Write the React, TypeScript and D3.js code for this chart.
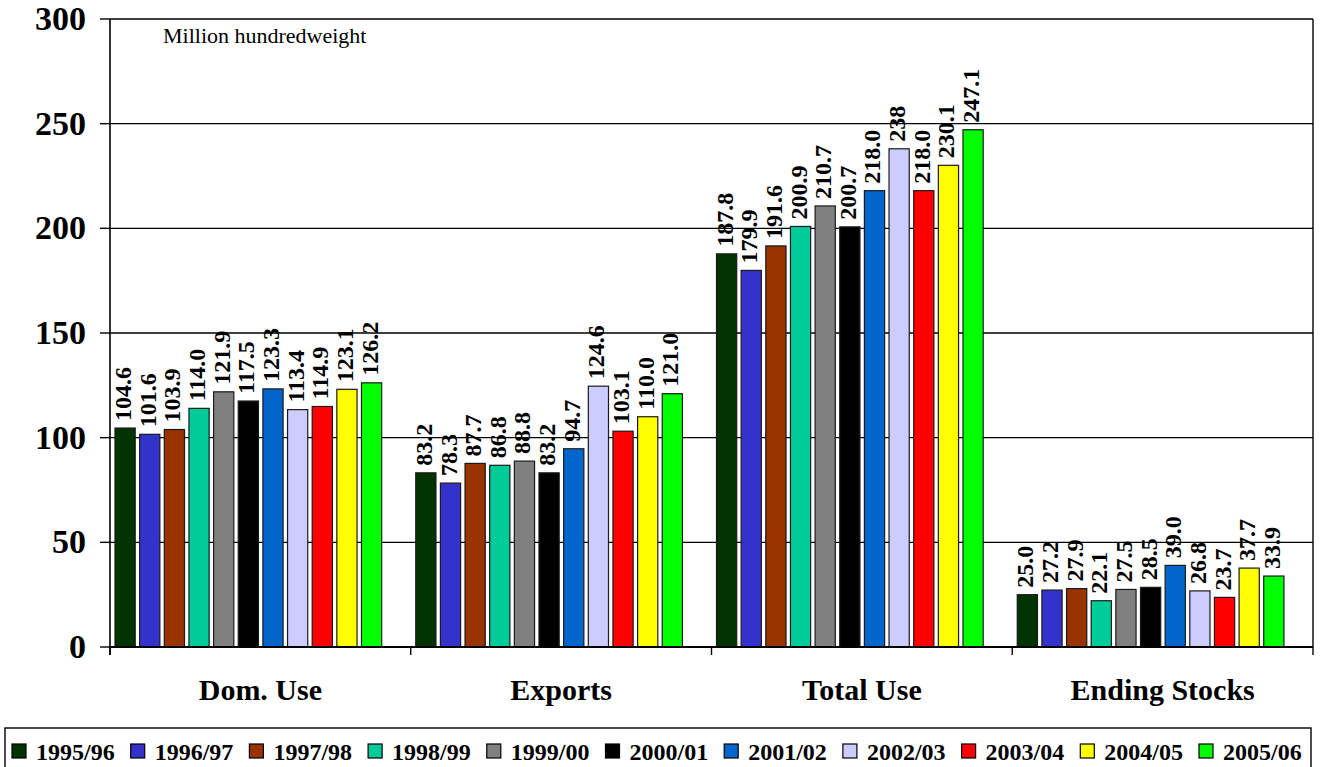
import React from "react";
import * as d3 from "d3";

const categories = ["Dom. Use", "Exports", "Total Use", "Ending Stocks"];
const years = ["1995/96", "1996/97", "1997/98", "1998/99", "1999/00", "2000/01", "2001/02", "2002/03", "2003/04", "2004/05", "2005/06"];
const colors = ["#003300", "#3333CC", "#993300", "#00CC99", "#808080", "#000000", "#0066CC", "#CCCCFF", "#FF0000", "#FFFF00", "#00FF00"];

const domUse = [104.6, 101.6, 103.9, 114.0, 121.9, 117.5, 123.3, 113.4, 114.9, 123.1, 126.2];
const exportsV = [83.2, 78.3, 87.7, 86.8, 88.8, 83.2, 94.7, 124.6, 103.1, 110.0, 121.0];
const totalUse = [187.8, 179.9, 191.6, 200.9, 210.7, 200.7, 218.0, 238, 218.0, 230.1, 247.1];
const endingStocks = [25.0, 27.2, 27.9, 22.1, 27.5, 28.5, 39.0, 26.8, 23.7, 37.7, 33.9];
// labels printed without a decimal in the original
const plainLabels = ["Total Use|2002/03"];

const yTicks = [0, 50, 100, 150, 200, 250, 300];
const unitLabel = "Million hundredweight";

const seriesByCategory = [domUse, exportsV, totalUse, endingStocks];

const W = 1323;
const H = 767;
const left = 110;
const right = 1313;
const top = 19;
const bottom = 647;
const FONT = "'Liberation Serif', 'Times New Roman', serif";

export default function App() {
  const y = d3.scaleLinear().domain([0, 300]).range([bottom, top]);
  const x0 = d3.scaleBand<string>().domain(categories).range([left, right]).padding(0);
  const x1 = d3.scaleBand<string>().domain(years).range([5, 271.7]).paddingInner(0.18).paddingOuter(0);
  const legendX = d3.scalePoint<string>().domain(years).range([12, 1199]);

  const fmt = (cat: string, yr: string, v: number) =>
    plainLabels.includes(cat + "|" + yr) ? String(Math.round(v)) : v.toFixed(1);

  return (
    <svg width={W} height={H} style={{ position: "absolute", left: 0, top: 0, background: "#fff" }} fontFamily={FONT}>
      {/* gridlines */}
      {yTicks.filter((t) => t > 0).map((t) => (
        <line key={"g" + t} x1={left} x2={right} y1={y(t)} y2={y(t)} stroke="#000" strokeWidth={1.4} />
      ))}
      {/* right border */}
      <line x1={right} x2={right} y1={top} y2={bottom} stroke="#000" strokeWidth={1.4} />
      {/* bars */}
      {categories.map((cat, ci) => (
        <g key={cat} transform={`translate(${x0(cat)},0)`}>
          {years.map((yr, i) => {
            const v = seriesByCategory[ci][i];
            const bx = x1(yr)!;
            const bw = x1.bandwidth();
            return (
              <rect key={yr} x={bx} y={y(v)} width={bw} height={y(0) - y(v)} fill={colors[i]} stroke="#1a1a1a" strokeWidth={1.2} />
            );
          })}
          {years.map((yr, i) => {
            const v = seriesByCategory[ci][i];
            const cx = x1(yr)! + x1.bandwidth() / 2;
            return (
              <text
                key={"l" + yr}
                transform={`translate(${cx + 6},${y(v) - 7}) rotate(-90)`}
                fontSize={24}
                fontWeight="bold"
                textAnchor="start"
                fill="#000"
              >
                {fmt(cat, yr, v)}
              </text>
            );
          })}
        </g>
      ))}
      {/* axes */}
      <line x1={left} x2={left} y1={top} y2={bottom + 8} stroke="#000" strokeWidth={1.6} />
      <line x1={left} x2={right} y1={bottom} y2={bottom} stroke="#000" strokeWidth={2.2} />
      {yTicks.map((t) => (
        <g key={"t" + t}>
          <line x1={left - 10} x2={left} y1={y(t)} y2={y(t)} stroke="#000" strokeWidth={1.4} />
          <text x={86} y={y(t) + 11} textAnchor="end" fontSize={34} fontWeight="bold" fill="#000">
            {t}
          </text>
        </g>
      ))}
      {categories.map((cat) => (
        <g key={"c" + cat}>
          <line x1={x0(cat)!} x2={x0(cat)!} y1={bottom} y2={bottom + 8} stroke="#000" strokeWidth={1.4} />
          <text x={x0(cat)! + x0.bandwidth() / 2} y={700} textAnchor="middle" fontSize={30} fontWeight="bold" fill="#000">
            {cat}
          </text>
        </g>
      ))}
      <line x1={right} x2={right} y1={bottom} y2={bottom + 8} stroke="#000" strokeWidth={1.4} />
      <text x={163} y={43} fontSize={22} fill="#000">
        {unitLabel}
      </text>
      {/* legend */}
      <rect x={5} y={728} width={1306} height={48} fill="#fff" stroke="#000" strokeWidth={1.4} />
      {years.map((yr, i) => (
        <g key={"lg" + yr} transform={`translate(${legendX(yr)},0)`}>
          <rect x={0} y={744} width={14} height={14} fill={colors[i]} stroke="#000" strokeWidth={1.2} />
          <text x={24} y={760} fontSize={24} fontWeight="bold" fill="#000">
            {yr}
          </text>
        </g>
      ))}
    </svg>
  );
}
